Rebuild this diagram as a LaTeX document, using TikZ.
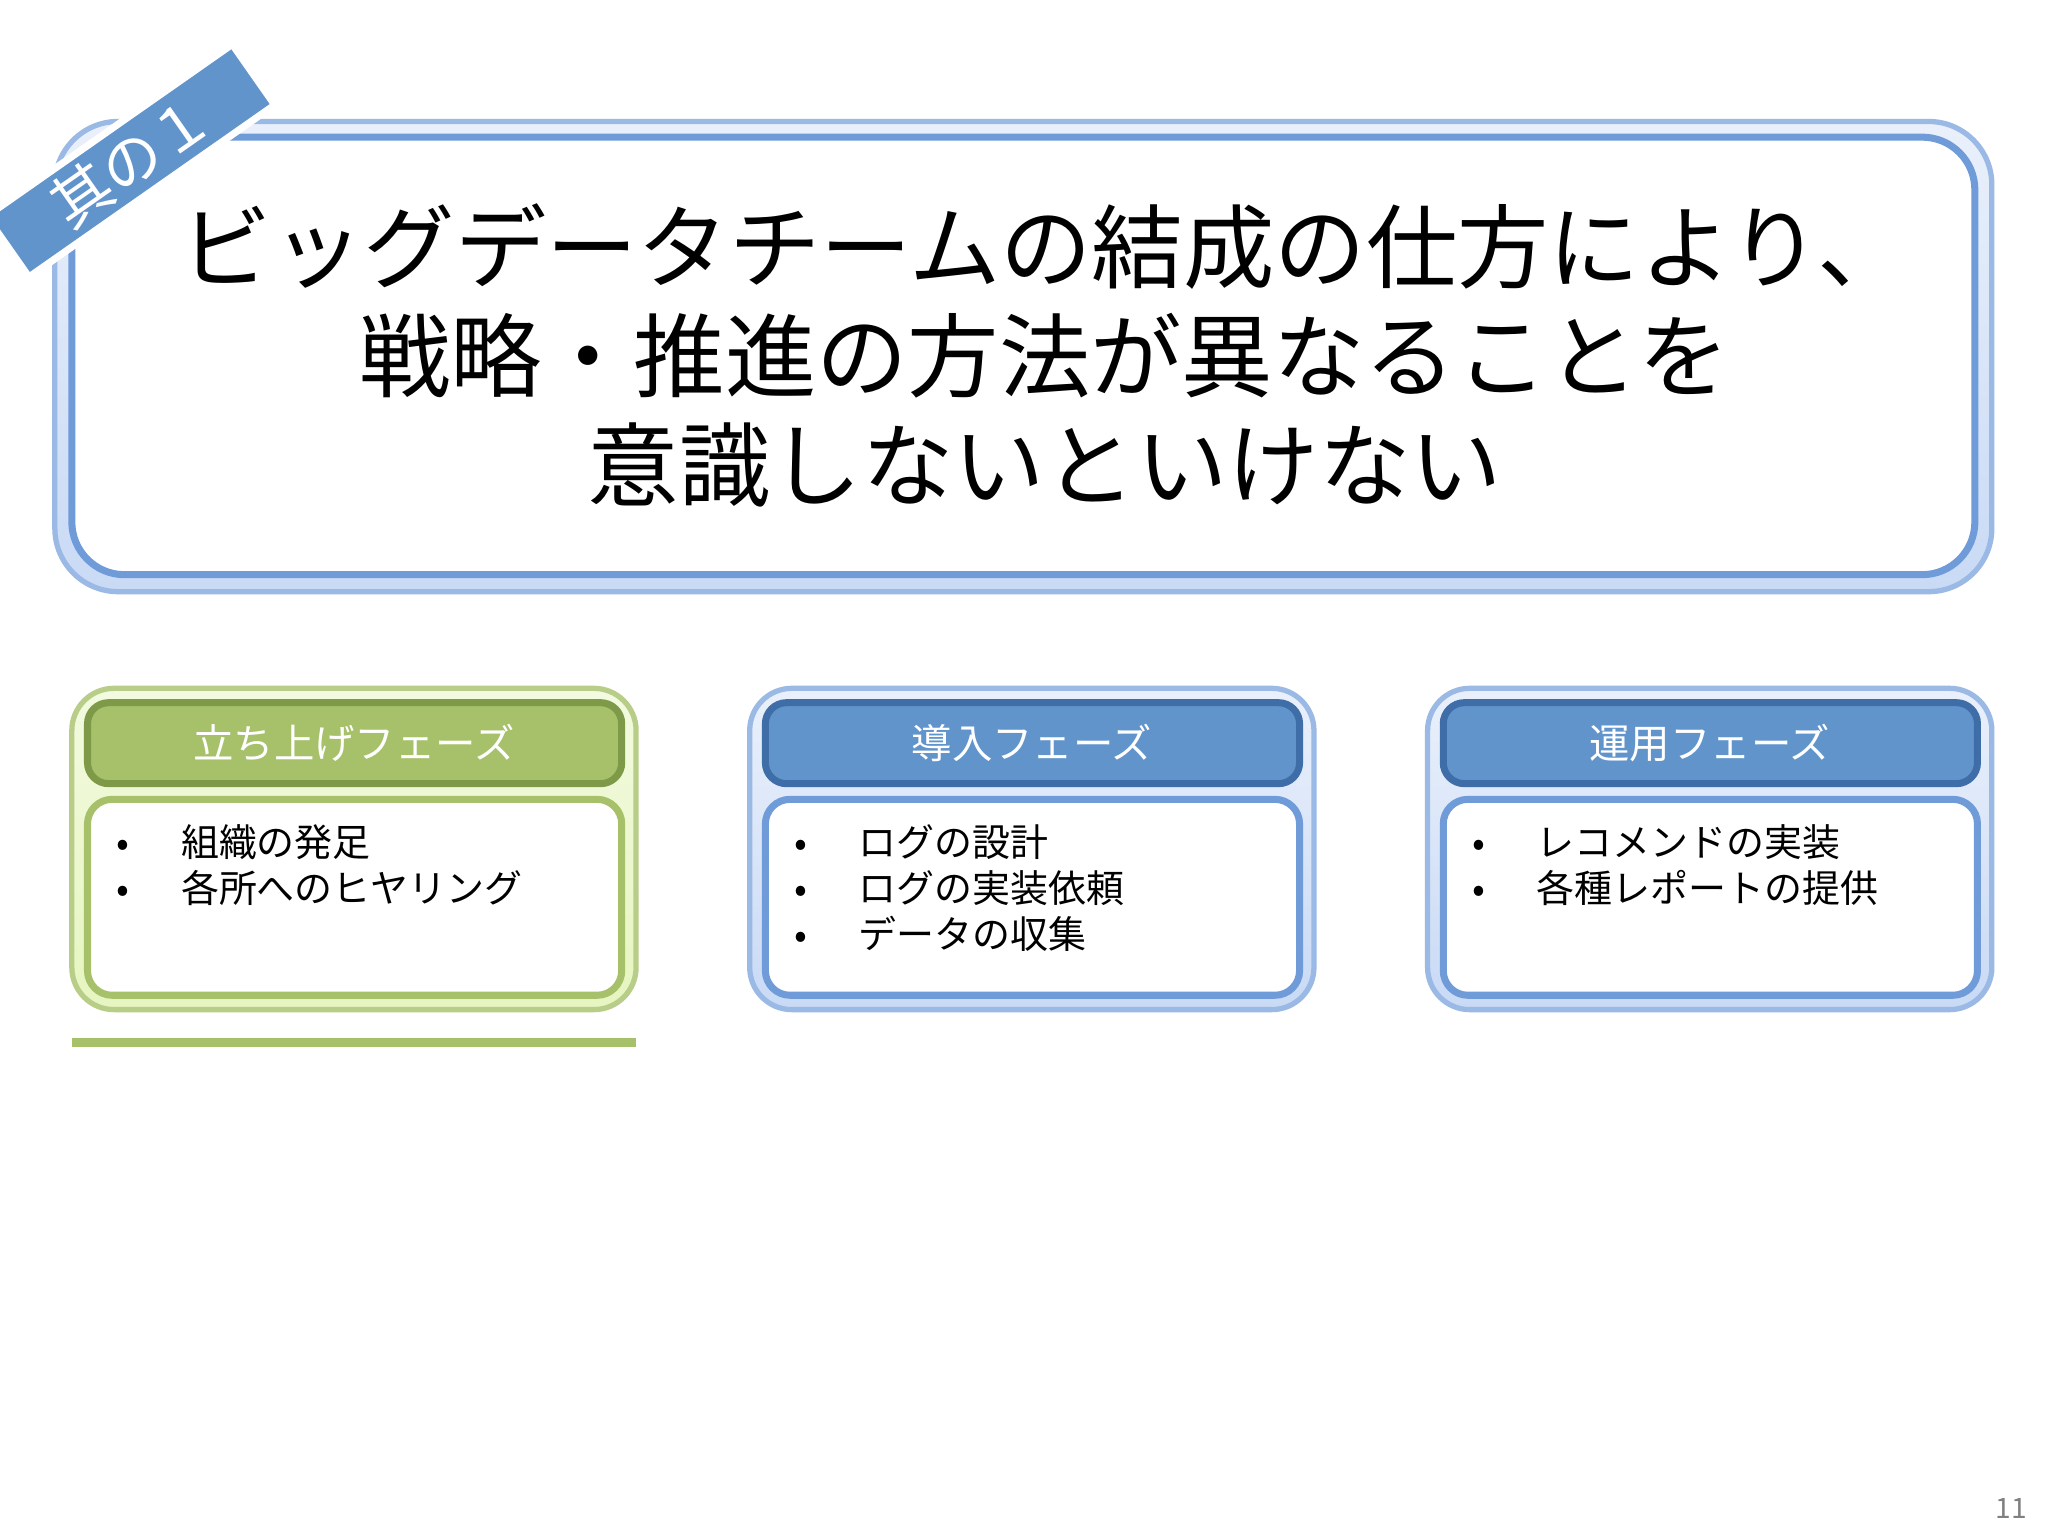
\documentclass[tikz,border=0pt]{standalone}
\usepackage{fontspec}
\setmainfont{Noto Sans CJK JP}
\definecolor{bord}{HTML}{6F9BD8}
\definecolor{lb}{HTML}{C9DAF5}
\definecolor{gbar}{HTML}{A6C16A}
\definecolor{gbord}{HTML}{7E9A48}
\definecolor{gout}{HTML}{E6F5C0}
\definecolor{bbar}{HTML}{6294CC}
\definecolor{bbord}{HTML}{3F6DA8}
\begin{document}
\begin{tikzpicture}[x=0.01306cm,y=-0.01306cm,
  outerb/.style={rounded corners=12pt,draw=bord!70,line width=1.5pt,top color=lb!40,bottom color=lb},
  outerg/.style={rounded corners=12pt,draw=gbar!80,line width=1.5pt,top color=gout!50,bottom color=gout},
  inner/.style={rounded corners=7pt,draw=bord,line width=2pt,fill=white},
  innerg/.style={rounded corners=7pt,draw=gbar,line width=2pt,fill=white},
  hdr/.style={rounded corners=6pt,line width=2pt},
  htext/.style={text=white,font=\fontsize{11.5pt}{14pt}\selectfont},
  btext/.style={anchor=north west,align=left,font=\fontsize{10.8pt}{13pt}\selectfont}]
\useasboundingbox[fill=white] (0,0) rectangle (1568,1176);
% big box
\path[outerb,rounded corners=18pt] (42,93) rectangle (1525,453);
\path[inner,rounded corners=15pt] (55,105) rectangle (1512,440);
\node[align=center,font=\fontsize{26pt}{31pt}\selectfont] (title) at (800,272)
 {ビッグデータチームの結成の仕方により、\\戦略・推進の方法が異なることを\\意識しないといけない};
% tag
\node[rotate=35,fill=bbar,draw=white,line width=2pt,text=white,minimum width=3.0cm,minimum height=0.74cm,inner sep=1pt,font=\fontsize{17pt}{18pt}\selectfont] (tag) at (100,123) {其の１};
% panels
\path[outerg] (55,527) rectangle (487,773);
\path[innerg] (67,612) rectangle (476,762);
\path[hdr,fill=gbar,draw=gbord] (67,538) rectangle (476,600);
\node[htext] (h1) at (271,569) {立ち上げフェーズ};
\node[btext] (b1) at (80,622) {•\hspace{1.35em}組織の発足\\•\hspace{1.35em}各所へのヒヤリング};
\draw[gbar,line width=2.5pt] (55,798) -- (487,798);

\path[outerb] (574,527) rectangle (1006,773);
\path[inner] (586,612) rectangle (995,762);
\path[hdr,fill=bbar,draw=bbord] (586,538) rectangle (995,600);
\node[htext] (h2) at (790,569) {導入フェーズ};
\node[btext] (b2) at (599,622) {•\hspace{1.35em}ログの設計\\•\hspace{1.35em}ログの実装依頼\\•\hspace{1.35em}データの収集};

\path[outerb] (1093,527) rectangle (1525,773);
\path[inner] (1105,612) rectangle (1514,762);
\path[hdr,fill=bbar,draw=bbord] (1105,538) rectangle (1514,600);
\node[htext] (h3) at (1309,569) {運用フェーズ};
\node[btext] (b3) at (1118,622) {•\hspace{1.35em}レコメンドの実装\\•\hspace{1.35em}各種レポートの提供};

\node[text=gray,font=\fontsize{8pt}{9pt}\selectfont] (pg) at (1540,1155) {11};
\end{tikzpicture}
\end{document}
